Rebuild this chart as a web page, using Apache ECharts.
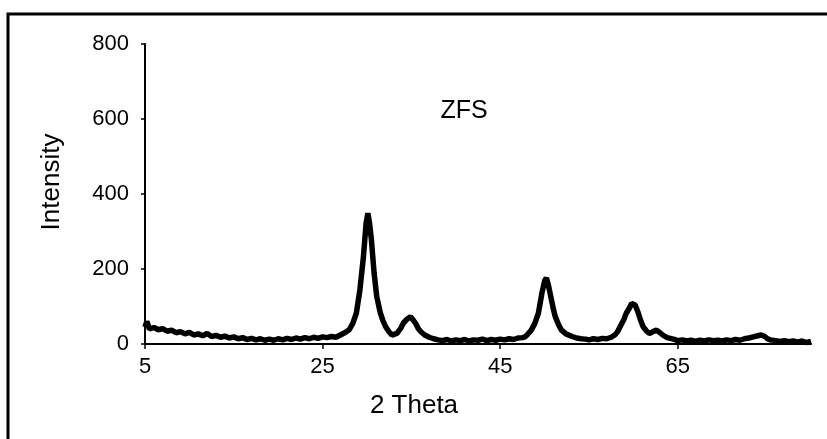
<!DOCTYPE html>
<html><head><meta charset="utf-8">
<script src="https://cdn.jsdelivr.net/npm/echarts@6/dist/echarts.min.js"></script>
<style>html,body{margin:0;padding:0;background:#fff}#c{width:827px;height:439px}</style>
</head><body><div id="c"></div>
<script>
// 2 Theta positions (degrees)
const theta = [
 5.0,5.2,5.5,6.0,6.5,7.0,7.5,8.0,8.5,9.0,9.5,10.0,10.5,11.0,11.5,12.0,12.5,13.0,13.5,14.0,14.5,15.0,15.5,16.0,16.5,17.0,17.5,18.0,18.5,19.0,19.5,20.0,20.5,21.0,21.5,22.0,22.5,23.0,23.5,24.0,24.5,25.0,25.5,26.0,26.5,27.0,27.5,
 28.0,28.4,28.8,29.2,29.6,29.9,30.1,30.3,30.5,30.8,31.1,31.5,31.8,32.1,32.5,32.8,33.1,33.4,33.8,34.1,34.5,34.9,35.2,35.5,35.8,36.1,36.5,37.0,37.5,38.0,
 38.5,39.0,39.5,40.0,40.5,41.0,41.5,42.0,42.5,43.0,43.5,44.0,44.5,45.0,45.5,46.0,46.5,47.0,47.5,
 47.8,48.1,48.5,48.9,49.3,49.7,50.0,50.2,50.4,50.7,51.0,51.2,51.6,51.9,52.4,53.1,53.6,54.1,54.6,55.0,55.5,56.0,56.5,57.0,57.5,57.9,
 58.2,58.5,58.9,59.2,59.6,59.8,60.0,60.2,60.5,60.8,61.1,61.5,61.8,62.2,62.6,63.0,63.3,63.8,64.5,65.0,65.5,66.0,66.5,67.0,67.5,68.0,68.5,69.0,69.5,70.0,70.5,71.0,71.5,72.0,72.5,73.0,73.5,74.0,74.4,74.8,75.1,75.4,76.0,76.5,77.0,77.5,78.0,78.5,79.0,79.5,80.0
];
// Intensity readings
const intensity = [
 45,60,40,44,38,41,34,37,30,33,27,31,24,27,22,28,20,23,18,21,16,19,14,17,12,15,11,14,10,13,10,14,11,15,12,16,13,17,14,18,15,19,17,20,18,24,30,
 38,55,82,144,233,322,349,320,277,189,126,83,62,46,32,24,26,29,42,56,66,73,64,54,40,32,24,18,14,11,
 9,12,8,11,9,12,8,11,10,13,9,12,10,13,11,14,12,16,17,
 19,26,37,55,82,136,168,176,160,126,92,73,50,37,27,20,16,14,13,11,14,12,15,14,18,24,
 32,46,64,82,98,108,113,104,86,64,46,34,28,33,37,30,24,17,13,9,11,8,10,7,10,8,11,9,10,8,11,9,12,10,14,16,19,22,24,20,14,11,9,7,9,6,8,5,8,4,7
];
const xTicks = [5,25,45,65];
const yTicks = [0,200,400,600,800];

const data = theta.map((t,i)=>[t,intensity[i]]);
const chart = echarts.init(document.getElementById('c'));
const font = 'Liberation Sans, Arial, sans-serif';
chart.setOption({
  animation:false,
  backgroundColor:'#fff',
  graphic:[
    {type:'rect',shape:{x:8,y:14,width:900,height:500},style:{fill:'none',stroke:'#000',lineWidth:3},silent:true},
    {type:'text',x:464,y:111,style:{text:'ZFS',font:'25px '+font,fill:'#000',align:'center',verticalAlign:'middle'}},
    {type:'text',x:414,y:406,style:{text:'2 Theta',font:'26px '+font,fill:'#000',align:'center',verticalAlign:'middle'}},
    {type:'text',x:52,y:182,rotation:Math.PI/2,style:{text:'Intensity',font:'26px '+font,fill:'#000',align:'center',verticalAlign:'middle'}}
  ],
  grid:{left:145,right:16,top:44,bottom:95,containLabel:false},
  xAxis:{
    type:'value',min:5,max:80,interval:20,
    axisLine:{onZero:false,lineStyle:{color:'#000',width:2}},
    axisTick:{show:true,length:5,lineStyle:{color:'#000',width:1.5},customValues:xTicks},
    axisLabel:{fontSize:22,fontFamily:font,color:'#000',margin:12,customValues:xTicks},
    splitLine:{show:false}
  },
  yAxis:{
    type:'value',min:0,max:800,interval:200,
    axisLine:{show:true,lineStyle:{color:'#000',width:2}},
    axisTick:{show:true,length:4,lineStyle:{color:'#000',width:1.5},customValues:yTicks},
    axisLabel:{fontSize:22,fontFamily:font,color:'#000',margin:16,customValues:yTicks},
    splitLine:{show:false}
  },
  series:[{
    type:'line',data:data,showSymbol:false,symbol:'none',
    lineStyle:{color:'#000',width:5.5},
    clip:true
  }]
});
</script></body></html>
